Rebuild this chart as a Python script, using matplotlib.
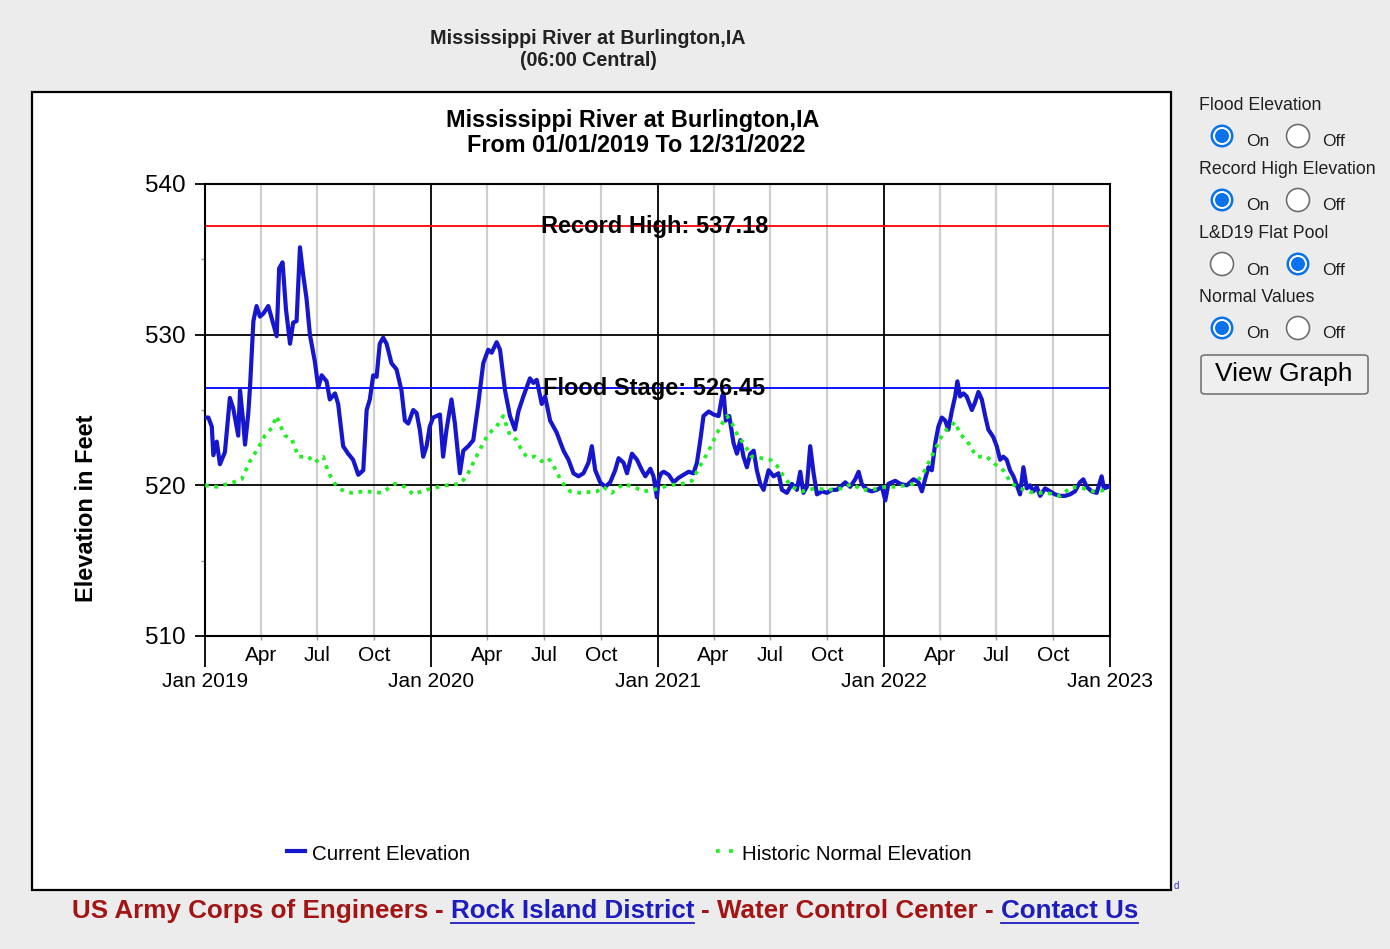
import numpy as np
import pandas as pd
import matplotlib
matplotlib.use("Agg")
import matplotlib.pyplot as plt
import matplotlib.dates as mdates
from matplotlib.ticker import MultipleLocator
from matplotlib.patches import Rectangle, Ellipse, FancyBboxPatch
from matplotlib.lines import Line2D

# ---------------- data ----------------
# time as decimal years, elevation in feet
current_t = [
    2019.000, 2019.015, 2019.030, 2019.037, 2019.052, 2019.066, 2019.088, 2019.110, 2019.125, 2019.147,
    2019.155, 2019.169, 2019.177, 2019.191, 2019.199, 2019.214, 2019.228, 2019.243, 2019.258, 2019.280,
    2019.295, 2019.317, 2019.328, 2019.343, 2019.358, 2019.376, 2019.390, 2019.405, 2019.420, 2019.434,
    2019.449, 2019.464, 2019.486, 2019.501, 2019.516, 2019.538, 2019.552, 2019.575, 2019.589, 2019.611,
    2019.633, 2019.655, 2019.678, 2019.700, 2019.715, 2019.729, 2019.744, 2019.759, 2019.773, 2019.788,
    2019.803, 2019.825, 2019.847, 2019.869, 2019.884, 2019.899, 2019.921, 2019.936, 2019.950, 2019.965,
    2019.980, 2019.994, 2020.009, 2020.024, 2020.039, 2020.053, 2020.068, 2020.090, 2020.105, 2020.127,
    2020.142, 2020.164, 2020.186, 2020.208, 2020.230, 2020.252, 2020.267, 2020.289, 2020.304, 2020.326,
    2020.348, 2020.370, 2020.385, 2020.407, 2020.436, 2020.451, 2020.466, 2020.488, 2020.503, 2020.525,
    2020.554, 2020.584, 2020.606, 2020.628, 2020.650, 2020.672, 2020.694, 2020.709, 2020.724, 2020.746,
    2020.768, 2020.790, 2020.812, 2020.827, 2020.849, 2020.864, 2020.886, 2020.908, 2020.930, 2020.945,
    2020.967, 2020.981, 2020.996, 2021.004, 2021.015, 2021.026, 2021.048, 2021.070, 2021.092, 2021.114,
    2021.136, 2021.158, 2021.173, 2021.188, 2021.202, 2021.225, 2021.247, 2021.269, 2021.284, 2021.291,
    2021.301, 2021.316, 2021.335, 2021.350, 2021.365, 2021.379, 2021.394, 2021.409, 2021.424, 2021.438,
    2021.453, 2021.468, 2021.490, 2021.512, 2021.534, 2021.549, 2021.571, 2021.593, 2021.615, 2021.630,
    2021.644, 2021.659, 2021.674, 2021.689, 2021.704, 2021.726, 2021.748, 2021.770, 2021.792, 2021.814,
    2021.829, 2021.851, 2021.873, 2021.888, 2021.902, 2021.925, 2021.947, 2021.969, 2021.991, 2022.006,
    2022.020, 2022.050, 2022.072, 2022.101, 2022.131, 2022.153, 2022.168, 2022.182, 2022.197, 2022.212,
    2022.227, 2022.241, 2022.256, 2022.271, 2022.285, 2022.300, 2022.315, 2022.325, 2022.337, 2022.352,
    2022.366, 2022.389, 2022.403, 2022.418, 2022.433, 2022.448, 2022.462, 2022.484, 2022.499, 2022.514,
    2022.528, 2022.543, 2022.558, 2022.573, 2022.588, 2022.602, 2022.617, 2022.632, 2022.646, 2022.661,
    2022.676, 2022.691, 2022.713, 2022.735, 2022.757, 2022.779, 2022.801, 2022.823, 2022.845, 2022.867,
    2022.882, 2022.897, 2022.919, 2022.941, 2022.963, 2022.973, 2022.993, 2023.000,
]
current_elev = [
    524.5, 524.5, 523.9, 522.0, 522.9, 521.4, 522.2, 525.8, 525.1, 523.3,
    526.3, 524.2, 522.7, 524.7, 526.5, 530.9, 531.9, 531.2, 531.4, 531.9,
    531.1, 529.9, 534.4, 534.8, 531.7, 529.4, 530.8, 530.9, 535.8, 534.0,
    532.4, 530.0, 528.2, 526.5, 527.3, 526.9, 525.7, 526.1, 525.4, 522.6,
    522.1, 521.7, 520.7, 521.0, 525.0, 525.7, 527.3, 527.2, 529.4, 529.8,
    529.4, 528.1, 527.7, 526.3, 524.3, 524.1, 525.0, 524.8, 523.7, 521.9,
    522.6, 523.9, 524.5, 524.6, 524.7, 521.9, 523.7, 525.7, 524.1, 520.8,
    522.3, 522.6, 523.0, 525.4, 528.1, 529.0, 528.8, 529.5, 529.0, 526.3,
    524.6, 523.7, 524.9, 525.9, 527.1, 526.8, 527.0, 525.4, 525.9, 524.3,
    523.5, 522.3, 521.7, 520.8, 520.6, 520.8, 521.5, 522.6, 521.0, 520.2,
    519.9, 520.2, 521.0, 521.8, 521.5, 520.8, 522.1, 521.7, 521.0, 520.6,
    521.1, 520.6, 519.2, 520.4, 520.8, 520.9, 520.7, 520.2, 520.5, 520.7,
    520.9, 520.8, 521.5, 523.0, 524.6, 524.9, 524.7, 524.6, 525.9, 526.1,
    524.3, 524.6, 522.8, 522.1, 523.0, 521.9, 521.2, 522.1, 522.3, 521.0,
    520.1, 519.7, 521.0, 520.6, 520.8, 519.7, 519.5, 520.1, 519.7, 520.9,
    519.5, 519.9, 522.6, 520.8, 519.4, 519.6, 519.5, 519.7, 519.7, 520.0,
    520.2, 519.9, 520.4, 520.9, 520.1, 519.7, 519.6, 519.7, 519.9, 519.0,
    520.1, 520.3, 520.1, 520.0, 520.4, 520.2, 519.6, 520.4, 521.2, 521.0,
    522.8, 523.9, 524.5, 524.3, 523.7, 524.9, 525.9, 526.9, 525.9, 526.1,
    525.9, 525.0, 525.5, 526.2, 525.7, 524.6, 523.7, 523.2, 522.6, 521.7,
    521.9, 521.7, 521.0, 520.6, 520.0, 519.4, 521.2, 519.8, 520.0, 519.6,
    519.9, 519.3, 519.8, 519.6, 519.4, 519.3, 519.3, 519.4, 519.6, 520.2,
    520.4, 519.9, 519.6, 519.5, 520.6, 519.8, 519.9, 520.0,
]

normal_t = [
    2019.000, 2019.052, 2019.125, 2019.162, 2019.199, 2019.236, 2019.265, 2019.295, 2019.317, 2019.332,
    2019.354, 2019.383, 2019.413, 2019.457, 2019.486, 2019.508, 2019.523, 2019.538, 2019.552, 2019.575,
    2019.604, 2019.648, 2019.707, 2019.781, 2019.840, 2019.884, 2019.921, 2019.958, 2020.002,
    2020.068, 2020.127, 2020.157, 2020.186, 2020.230, 2020.252, 2020.289, 2020.318, 2020.348, 2020.378,
    2020.400, 2020.422, 2020.459, 2020.488, 2020.517, 2020.540, 2020.577, 2020.613, 2020.657, 2020.731,
    2020.760, 2020.797, 2020.849, 2020.893, 2020.937, 2020.981,
    2021.048, 2021.107, 2021.151, 2021.180, 2021.225, 2021.254, 2021.276, 2021.306, 2021.328, 2021.357,
    2021.379, 2021.416, 2021.460, 2021.497, 2021.527, 2021.556, 2021.593, 2021.637, 2021.696, 2021.755,
    2021.814, 2021.858, 2021.902, 2021.947, 2022.006,
    2022.057, 2022.131, 2022.168, 2022.204, 2022.234, 2022.263, 2022.293, 2022.315, 2022.337, 2022.366,
    2022.389, 2022.411, 2022.455, 2022.492, 2022.528, 2022.565, 2022.602, 2022.661, 2022.720, 2022.779,
    2022.831, 2022.882, 2022.926, 2023.000,
]
normal_elev = [
    520.0, 519.9, 520.2, 520.4, 521.6, 522.5, 523.3, 523.8, 524.6, 524.0,
    523.3, 523.1, 521.9, 521.9, 521.5, 521.8, 521.9, 521.2, 520.7, 520.1,
    519.7, 519.5, 519.6, 519.5, 520.1, 519.9, 519.4, 519.6, 519.8,
    520.0, 520.1, 520.6, 521.5, 522.8, 523.4, 523.9, 524.6, 523.3, 523.0,
    522.3, 521.9, 521.9, 521.6, 521.8, 521.3, 520.2, 519.6, 519.5, 519.6,
    519.9, 519.5, 520.1, 519.9, 519.6, 519.7,
    520.0, 520.1, 520.3, 521.1, 522.3, 523.2, 523.9, 524.6, 524.1, 523.2,
    522.8, 521.9, 521.8, 521.7, 521.3, 520.6, 519.9, 519.6, 519.8, 519.7,
    519.8, 520.1, 519.7, 519.7, 519.9,
    519.9, 520.1, 520.6, 521.7, 522.6, 523.5, 523.9, 524.2, 523.4, 523.0,
    522.4, 521.9, 521.9, 521.4, 521.0, 520.1, 519.8, 519.5, 519.5, 519.3,
    519.9, 519.8, 519.6, 519.7,
]

record_high = 537.18
flood_stage = 526.45
y_ticks = [510, 520, 530, 540]
minor_months = [4, 7, 10]
x_start, x_end = "2019-01-01", "2023-01-01"

page_title = ["Mississippi River at Burlington,IA", "(06:00 Central)"]
chart_title = ["Mississippi River at Burlington,IA", "From 01/01/2019 To 12/31/2022"]
legend_labels = ["Current Elevation", "Historic Normal Elevation"]
options = [("Flood Elevation", 0), ("Record High Elevation", 0), ("L&D19 Flat Pool", 1), ("Normal Values", 0)]
footer_parts = [("US Army Corps of Engineers", False), ("-", False), ("Rock Island District", True),
                ("-", False), ("Water Control Center", False), ("-", False), ("Contact Us", True)]


def to_dates(ts):
    out = []
    for t in ts:
        y = int(np.floor(t + 1e-9))
        start = pd.Timestamp(year=y, month=1, day=1)
        end = pd.Timestamp(year=y + 1, month=1, day=1)
        out.append(start + (end - start) * (t - y))
    return out


# ---------------- figure ----------------
W, H, DPI = 1390, 949, 100
plt.rcParams["font.family"] = ["Liberation Sans", "DejaVu Sans"]
fig = plt.figure(figsize=(W / DPI, H / DPI), dpi=DPI, facecolor="#ececec")


def fx(x):
    return x / W


def fy(y):
    return 1 - y / H


# white chart panel
fig.add_artist(Rectangle((fx(32), fy(890)), (1171 - 32) / W, (890 - 92) / H, transform=fig.transFigure,
                         facecolor="white", edgecolor="black", lw=1.6, zorder=-1))

ax = fig.add_axes([fx(205), fy(636), 905 / W, 452 / H])
ax.set_facecolor("white")

BLUE = "#1616cf"
GREEN = "#22ee22"
cur_dates = to_dates(current_t)
nor_dates = to_dates(normal_t)
ax.plot(cur_dates, current_elev, color=BLUE, lw=3.0, zorder=3, solid_joinstyle="round")
ax.plot(nor_dates, normal_elev, color=GREEN, lw=2.7, ls=(0, (1, 1.5)), zorder=4)
ax.axhline(record_high, color="#ff0000", lw=1.3, zorder=2)
ax.axhline(flood_stage, color="#0000ff", lw=1.3, zorder=2)

tr = matplotlib.transforms.blended_transform_factory(ax.transAxes, ax.transData)
ax.text(0.497, record_high, f"Record High: {record_high:.2f}", transform=tr, ha="center", va="center",
        fontsize=17, fontweight="bold", zorder=6)
ax.text(0.496, flood_stage, f"Flood Stage: {flood_stage:.2f}", transform=tr, ha="center", va="center",
        fontsize=17, fontweight="bold", zorder=6)

ax.set_xlim(pd.Timestamp(x_start), pd.Timestamp(x_end))
ax.set_ylim(y_ticks[0], y_ticks[-1])
ax.set_yticks(y_ticks)
ax.yaxis.set_minor_locator(MultipleLocator(5))
ax.xaxis.set_major_locator(mdates.YearLocator())
ax.xaxis.set_major_formatter(mdates.DateFormatter("Jan %Y"))
ax.xaxis.set_minor_locator(mdates.MonthLocator(bymonth=minor_months))
ax.xaxis.set_minor_formatter(mdates.DateFormatter("%b"))

ax.set_axisbelow(True)
ax.grid(which="major", axis="both", color="black", lw=1.3)
ax.grid(which="minor", axis="x", color="#cfcfcf", lw=1.6)

ax.tick_params(axis="x", which="major", length=22, width=1.3, pad=4, labelsize=15, colors="black")
ax.tick_params(axis="x", which="minor", length=3, width=1, pad=4, labelsize=15, color="#999999")
ax.tick_params(axis="y", which="major", length=7, width=1.3, pad=7, labelsize=17.5)
ax.tick_params(axis="y", which="minor", length=3, width=1, color="#999999")
for s in ax.spines.values():
    s.set_linewidth(1.5)
    s.set_color("black")

# titles
fig.text(fx(588), fy(38), page_title[0], ha="center", va="center", fontsize=14.2, fontweight="bold", color="#222222")
fig.text(fx(588), fy(60), page_title[1], ha="center", va="center", fontsize=14.2, fontweight="bold", color="#222222")
fig.text(fx(633), fy(120), chart_title[0], ha="center", va="center", fontsize=16.8, fontweight="bold")
fig.text(fx(636), fy(146), chart_title[1], ha="center", va="center", fontsize=16.8, fontweight="bold")
fig.text(fx(87), fy(508), "Elevation in Feet", rotation=90, ha="center", va="center", fontsize=17, fontweight="bold")

# legend
fig.add_artist(Line2D([fx(287), fx(305)], [fy(851), fy(851)], color=BLUE, lw=3.0, transform=fig.transFigure))
fig.text(fx(312), fy(855), legend_labels[0], ha="left", va="center", fontsize=14.8)
fig.add_artist(Line2D([fx(716), fx(736)], [fy(851), fy(851)], color=GREEN, lw=2.7, ls=(0, (1, 2.5)),
                      transform=fig.transFigure))
fig.text(fx(742), fy(855), legend_labels[1], ha="left", va="center", fontsize=14.8)

# right option panel
panel_color = "#202020"
for i, (label, sel) in enumerate(options):
    ly = 106 + 64 * i
    ry = 136 + 64 * i
    fig.text(fx(1199), fy(ly), label, ha="left", va="center", fontsize=12.8, color=panel_color)
    for j, cx in enumerate([1222, 1298]):
        r = 11.5
        if j == sel:
            fig.add_artist(Ellipse((fx(cx), fy(ry)), 2 * r / W, 2 * r / H, transform=fig.transFigure,
                                   facecolor="#0a72ee", edgecolor="none", zorder=5))
            fig.add_artist(Ellipse((fx(cx), fy(ry)), 2 * 9 / W, 2 * 9 / H, transform=fig.transFigure,
                                   facecolor="white", edgecolor="none", zorder=6))
            fig.add_artist(Ellipse((fx(cx), fy(ry)), 2 * 7 / W, 2 * 7 / H, transform=fig.transFigure,
                                   facecolor="#0a72ee", edgecolor="none", zorder=7))
        else:
            fig.add_artist(Ellipse((fx(cx), fy(ry)), 2 * r / W, 2 * r / H, transform=fig.transFigure,
                                   facecolor="white", edgecolor="#707070", lw=1.2, zorder=5))
    fig.text(fx(1246), fy(ry + 6), "On", ha="left", va="center", fontsize=12.5, color=panel_color)
    fig.text(fx(1322), fy(ry + 6), "Off", ha="left", va="center", fontsize=12.5, color=panel_color)

fig.add_artist(FancyBboxPatch((fx(1201), fy(394)), (1368 - 1201) / W, (394 - 355) / H,
                              boxstyle="round,pad=0,rounding_size=0.003", transform=fig.transFigure,
                              facecolor="#efefef", edgecolor="#767676", lw=1.2, zorder=5))
fig.text(fx(1284), fy(374), "View Graph", ha="center", va="center", fontsize=19, color="black", zorder=6)

# tiny link fragment at panel corner
fig.text(fx(1176), fy(886), "d", ha="center", va="center", fontsize=7, color="#3333cc")

# footer
fig.canvas.draw()
renderer = fig.canvas.get_renderer()
fsize = 18
red, blue = "#a31515", "#1c1cbf"
texts = []
for s, link in footer_parts:
    t = fig.text(0, fy(911), s, ha="left", va="center", fontsize=fsize, color=blue if link else red,
                 family=["Liberation Sans Narrow", "Liberation Sans", "DejaVu Sans"], fontweight="bold")
    texts.append((t, link))
widths = [t.get_window_extent(renderer).width for t, _ in texts]
gap = 0.28 * fsize * DPI / 72
total = sum(widths) + gap * (len(widths) - 1)
scale = (1138 - 72) / total
fsize *= scale
gap *= scale
x = 72
for (t, link), w in zip(texts, widths):
    t.set_fontsize(fsize)
    t.set_x(fx(x))
    if link:
        fig.add_artist(Line2D([fx(x), fx(x + w * scale)], [fy(923), fy(923)], color=blue, lw=1.3,
                              transform=fig.transFigure))
    x += w * scale + gap

fig.savefig("out.png", dpi=DPI, facecolor=fig.get_facecolor())
